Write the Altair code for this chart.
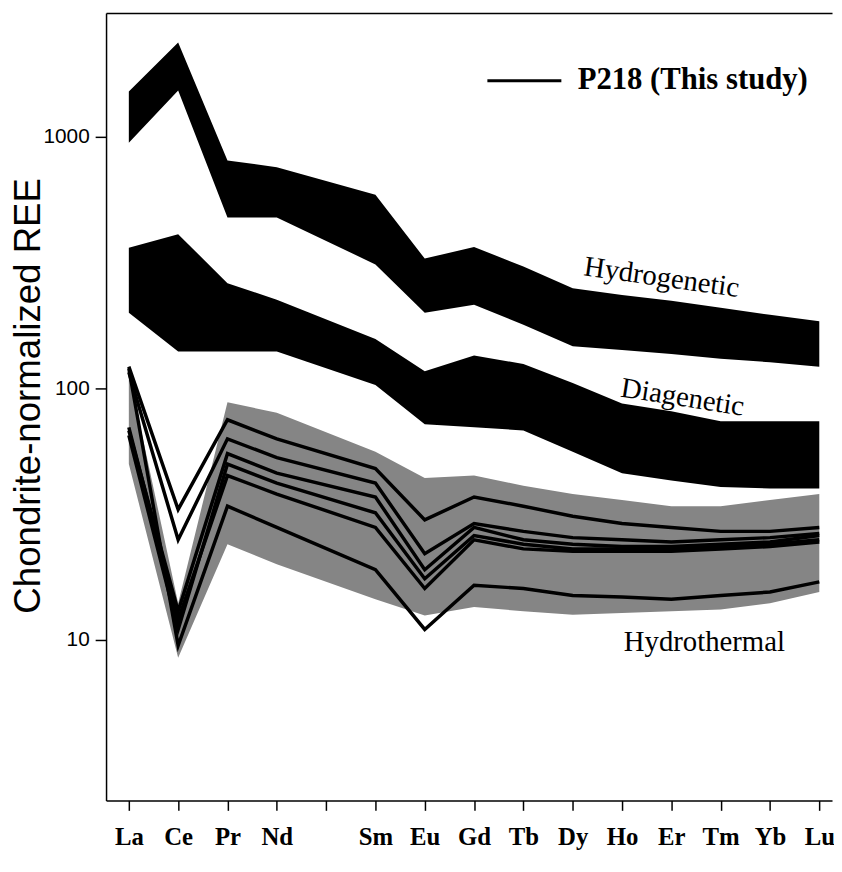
import altair as alt
import pandas as pd

# x-axis tick labels (Pm position left blank)
tick_labels = ["La", "Ce", "Pr", "Nd", "", "Sm", "Eu", "Gd", "Tb", "Dy", "Ho", "Er", "Tm", "Yb", "Lu"]
elements = ["La", "Ce", "Pr", "Nd", "Sm", "Eu", "Gd", "Tb", "Dy", "Ho", "Er", "Tm", "Yb", "Lu"]

# Field envelopes (chondrite-normalized)
hydrogenetic_low = [948, 1527, 478, 478, 311, 200, 215, 179, 147, 142, 137, 131, 127, 122]
hydrogenetic_high = [1513, 2371, 806, 757, 588, 328, 365, 305, 250, 235, 223, 209, 196, 185]
diagenetic_low = [200, 140, 140, 140, 103, 72, 70, 68, 56, 46, 43, 40.5, 40, 40]
diagenetic_high = [362, 410, 262, 225, 157, 117, 135, 125, 105, 87, 81, 74, 74, 74]
hydrothermal_low = [50, 8.5, 24, 20, 14.5, 12.5, 13.5, 13, 12.6, 12.8, 13, 13.2, 14, 15.5]
hydrothermal_high = [115, 14, 88, 80, 56, 44, 45, 41, 38, 36, 34, 34, 36, 38]

# P218 samples (this study)
p218_1 = [122, 33, 75, 63, 48, 30, 37, 34, 31, 29, 28, 27, 27, 28]
p218_2 = [116, 25, 63, 53, 42, 22, 29, 27, 25.5, 25, 24.5, 25, 25.5, 26.5]
p218_3 = [68, 13, 55, 46, 37, 19, 28, 25, 24, 23.5, 23.5, 24, 24.5, 26]
p218_4 = [65, 11, 50, 42, 32, 17.5, 26, 24, 23, 23, 23, 23.5, 24, 25]
p218_5 = [70, 12, 45, 38, 28, 16, 25, 23, 22.5, 22.5, 22.5, 23, 23.5, 24.5]
p218_6 = [120, 9.5, 34, 28, 19, 11, 16.5, 16, 15, 14.8, 14.5, 15, 15.5, 17]

pos = [tick_labels.index(e) for e in elements]

def band(low, high):
    return pd.DataFrame({"pos": pos, "low": low, "high": high})

samples = [p218_1, p218_2, p218_3, p218_4, p218_5, p218_6]
lines_df = pd.concat(
    [pd.DataFrame({"pos": pos, "value": s, "sample": f"S{i+1}", "order": list(range(len(pos)))})
     for i, s in enumerate(samples)],
    ignore_index=True,
)

labels_df = pd.DataFrame({
    "pos": [10.78, 11.2, 11.67],
    "value": [255, 85, 9.06],
    "text": ["Hydrogenetic", "Diagenetic", "Hydrothermal"],
    "angle": [8, 9, 0],
})
legend_text_df = pd.DataFrame({"pos": [9.1], "value": [1553], "text": ["P218 (This study)"]})
legend_line_df = pd.DataFrame({"pos": [7.27], "pos2": [8.77], "value": [1670]})

label_array = "[" + ",".join("'" + t + "'" for t in tick_labels) + "]"

W, H = 733, 795
xscale = alt.Scale(domain=[-0.462, 14.258], nice=False, zero=False)
yscale = alt.Scale(type="log", domain=[2.30, 3105], nice=False)

x_axis = alt.Axis(
    values=list(range(15)), labelExpr=label_array + "[datum.value]", title=None, grid=False,
    tickSize=10, tickWidth=1.5, tickColor="black", domainColor="black", domainWidth=1.5,
    labelFont="Liberation Serif", labelFontWeight="bold", labelFontSize=25, labelColor="black",
    labelPadding=15, labelFlush=False, labelOverlap=False,
)
# top axis: only its domain line is drawn, as the upper frame edge
x_axis_top = alt.Axis(
    orient="top", values=list(range(15)), labels=False, ticks=False, title=None, grid=False,
    domainColor="black", domainWidth=1.5,
)
y_axis = alt.Axis(
    values=[10, 100, 1000], format="d", grid=False,
    title="Chondrite-normalized REE", titleFont="Liberation Sans", titleFontSize=37,
    titleFontWeight="normal", titleColor="black", titleX=-59.6, titleY=386,
    tickSize=11, tickWidth=1.5, tickColor="black", domainColor="black", domainWidth=1.5,
    labelFont="Liberation Sans", labelFontSize=21, labelColor="black", labelPadding=6,
)

Xn = alt.X("pos:Q", scale=xscale, axis=None)
Y = lambda f: alt.Y(f, scale=yscale, axis=y_axis)

hydrothermal = alt.Chart(band(hydrothermal_low, hydrothermal_high)).mark_area(
    color="#858585"
).encode(x=alt.X("pos:Q", scale=xscale, axis=x_axis), y=Y("low:Q"), y2="high:Q")

hydrogenetic = alt.Chart(band(hydrogenetic_low, hydrogenetic_high)).mark_area(
    color="black"
).encode(x=alt.X("pos:Q", scale=xscale, axis=x_axis_top), y=Y("low:Q"), y2="high:Q")

diagenetic = alt.Chart(band(diagenetic_low, diagenetic_high)).mark_area(
    color="black"
).encode(x=Xn, y=Y("low:Q"), y2="high:Q")

lines = alt.Chart(lines_df).mark_line(color="black", strokeWidth=3.5, strokeJoin="miter").encode(
    x=Xn, y=Y("value:Q"), detail="sample:N", order="order:Q"
)

field_labels = alt.Chart(labels_df).mark_text(
    font="Liberation Serif", fontSize=29, color="black", align="center", baseline="alphabetic"
).encode(
    x=Xn, y=Y("value:Q"), text="text:N", angle=alt.Angle("angle:Q", scale=None)
)

legend_text = alt.Chart(legend_text_df).mark_text(
    font="Liberation Serif", fontSize=31, fontWeight="bold", color="black", align="left", baseline="alphabetic"
).encode(x=Xn, y=Y("value:Q"), text="text:N")

legend_line = alt.Chart(legend_line_df).mark_rule(color="black", strokeWidth=3).encode(
    x=Xn, x2="pos2:Q", y=Y("value:Q")
)

chart = alt.layer(
    hydrothermal, hydrogenetic, diagenetic, lines, field_labels, legend_line, legend_text
).resolve_axis(x="independent").properties(
    width=W, height=H,
    autosize=alt.AutoSizeParams(type="none"),
    padding={"left": 99, "top": 1, "right": 2, "bottom": 51},
    background="white",
).configure_view(stroke="transparent", strokeWidth=0, strokeOpacity=0)

chart.save("out.html", embed_options={"renderer": "svg", "actions": False})
